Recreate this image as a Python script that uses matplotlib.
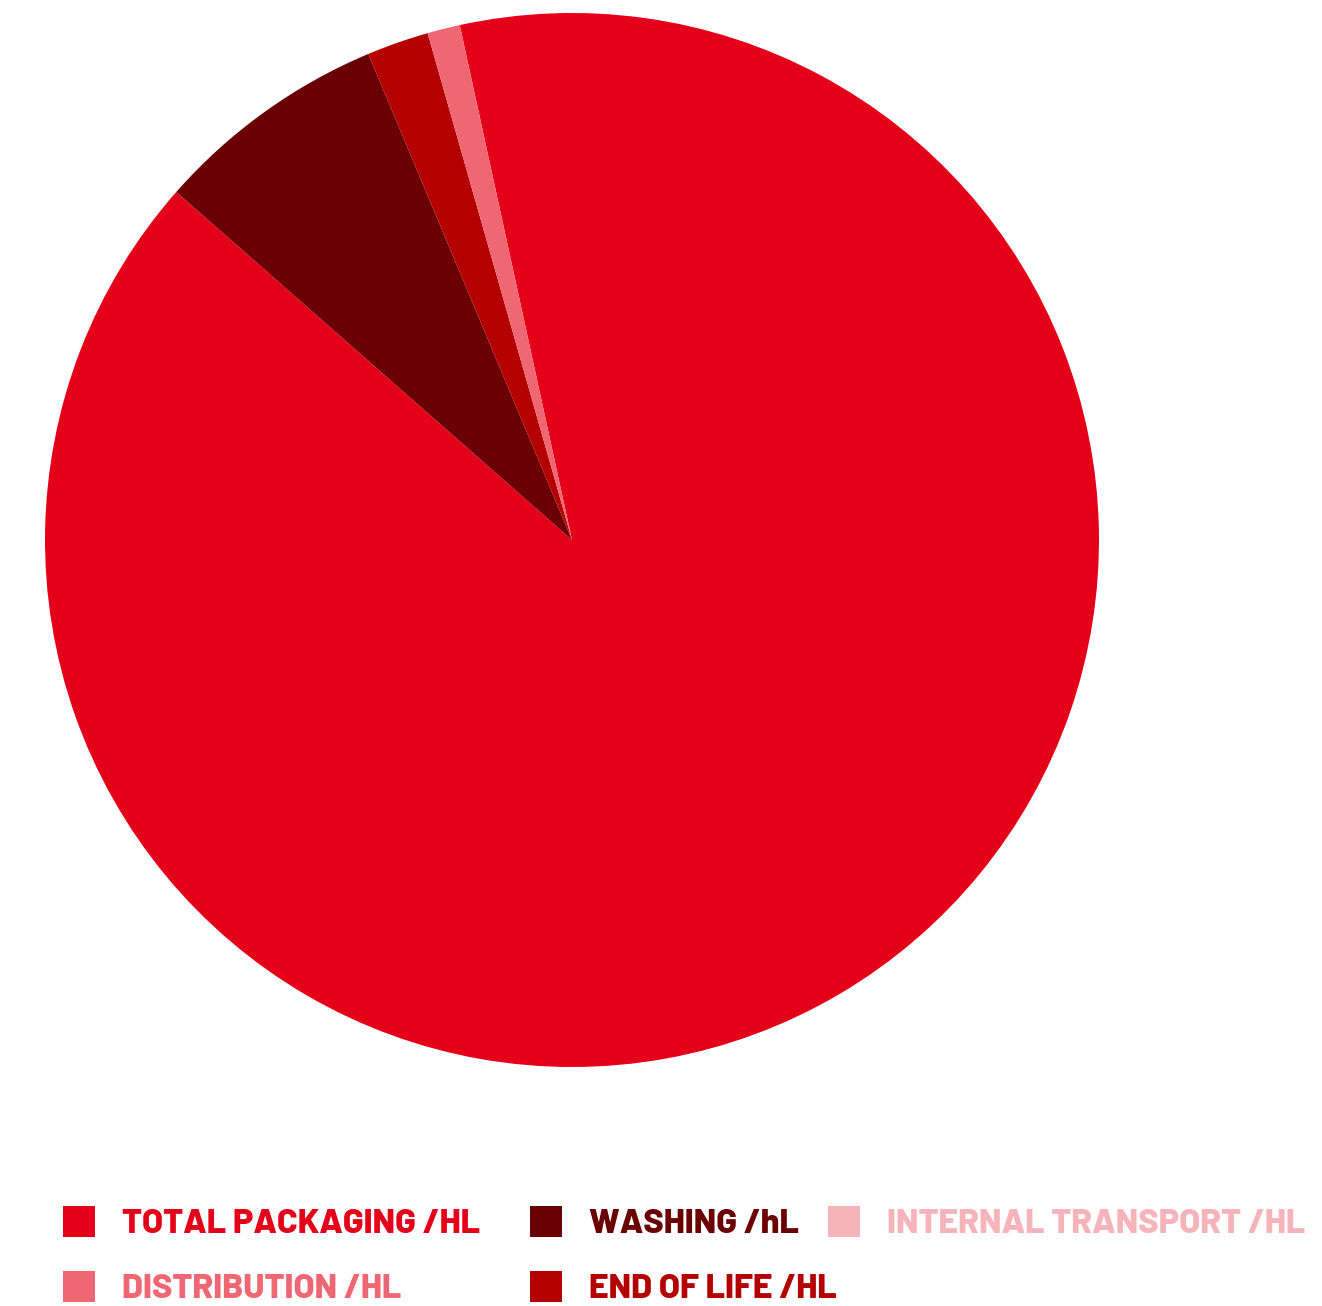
import matplotlib
matplotlib.use("Agg")
import matplotlib.pyplot as plt
from matplotlib.patches import Rectangle

# legend order
labels = ["TOTAL PACKAGING /HL", "WASHING /hL", "INTERNAL TRANSPORT /HL",
          "DISTRIBUTION /HL", "END OF LIFE /HL"]
shares = [89.9, 7.2, 0.0, 1.0, 1.9]
colors = ["#E50019", "#6B0004", "#F7B3BA", "#F06774", "#B40000"]

# order the wedges appear clockwise from the start angle
pie_order = [0, 1, 4, 3, 2]

W, H = 1322, 1306
fig = plt.figure(figsize=(W / 100, H / 100), dpi=100)

# pie axes: centre (572, 540) px, radius 527 px
cx, cy, r = 572, 540, 527
ax = fig.add_axes([(cx - r) / W, (H - cy - r) / H, 2 * r / W, 2 * r / H])
ax.pie([shares[i] for i in pie_order],
       colors=[colors[i] for i in pie_order],
       startangle=102.3, counterclock=False, radius=1,
       wedgeprops=dict(linewidth=0))
ax.set_xlim(-1, 1)
ax.set_ylim(-1, 1)
ax.set_aspect("equal")
ax.axis("off")

# legend, drawn by hand: (square left x, row centre y) in pixels
slots = [(63, 1221), (530, 1221), (828, 1221), (63, 1286), (530, 1286)]
font = ["Barlow", "Liberation Sans", "DejaVu Sans"]
for (x, y), lab, col in zip(slots, labels, colors):
    fig.patches.append(Rectangle((x / W, (H - y - 15.5) / H), 32 / W, 31 / H,
                                 transform=fig.transFigure, color=col, lw=0))
    fig.text((x + 59) / W, (H - y) / H, lab, color=col, fontsize=24.5,
             fontweight=800, family=font, va="center_baseline", ha="left")

fig.savefig("out.png", dpi=100)
